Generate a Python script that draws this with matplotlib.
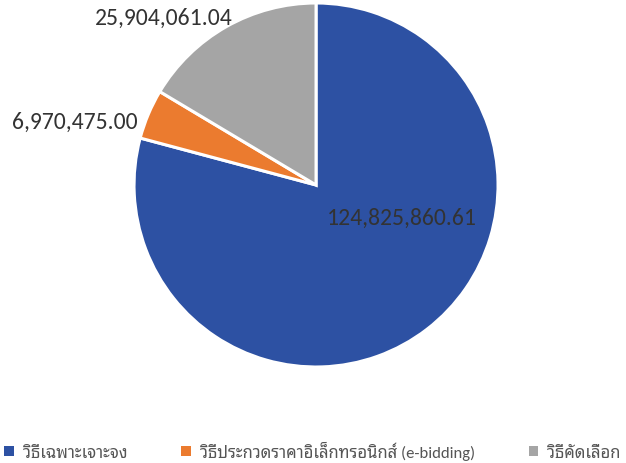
import matplotlib
matplotlib.use("Agg")
import matplotlib.pyplot as plt
from matplotlib.patches import Patch

categories = ["วิธีเฉพาะเจาะจง", "วิธีประกวดราคาอิเล็กทรอนิกส์ (e-bidding)", "วิธีคัดเลือก"]
values = [124825860.61, 6970475.00, 25904061.04]
value_labels = ["124,825,860.61", "6,970,475.00", "25,904,061.04"]
colors = ["#2D51A3", "#EB7B2F", "#A5A5A5"]

num_font = ["Carlito", "Noto Sans Thai Looped"]
leg_font = ["Carlito", "Noto Sans Thai Looped"]

fig = plt.figure(figsize=(6.26, 4.64), dpi=100)
ax = fig.add_axes([0.2141, 0.2069, 0.5815, 0.7845])
wedges, _ = ax.pie(values, colors=colors, startangle=90, counterclock=False,
                   wedgeprops=dict(edgecolor="white", linewidth=2.2))
ax.set_xlim(-1, 1)
ax.set_ylim(-1, 1)
ax.set_aspect("equal")

label_pos = [(0.47, -0.18, "center"), (-0.98, 0.35, "right"), (-0.835, 0.923, "center")]
for (x, y, ha), txt in zip(label_pos, value_labels):
    ax.text(x, y, txt, ha=ha, va="center", fontsize=17, family=num_font,
            color="#333333", clip_on=False)

handles = [Patch(facecolor=c, edgecolor="none") for c in colors]
fig.legend(handles, categories, loc="lower center", bbox_to_anchor=(0.5, -0.025),
           ncol=3, frameon=False,
           prop={"family": leg_font, "size": 12, "weight": "light"},
           labelcolor="#555555",
           handlelength=0.55, handleheight=0.55, handletextpad=0.6,
           columnspacing=3.2)
fig.savefig("out.png")
